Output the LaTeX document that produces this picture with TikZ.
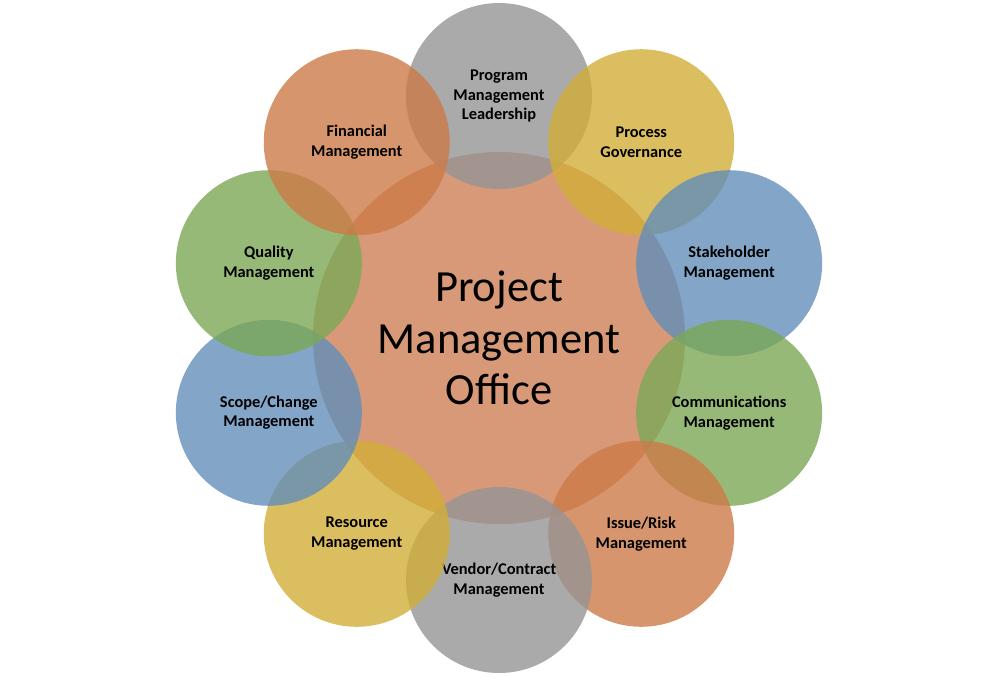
\documentclass[tikz,border=0pt]{standalone}
\usepackage{fontspec}
\setmainfont{Carlito}
\usetikzlibrary{positioning}
\definecolor{pmocore}{RGB}{205,128,86}
\definecolor{pmogray}{RGB}{149,149,149}
\definecolor{pmoorange}{RGB}{205,122,72}
\definecolor{pmoyellow}{RGB}{209,174,55}
\definecolor{pmoblue}{RGB}{99,142,186}
\definecolor{pmogreen}{RGB}{124,168,86}

\begin{document}
\begin{tikzpicture}[x=0.03cm, y=-0.03cm,
    hub/.style={circle, minimum size=11.16cm, inner sep=0pt, fill=pmocore, fill opacity=0.8, text opacity=1, align=center, font=\fontsize{38}{44}\selectfont},
    petal/.style={circle, minimum size=5.58cm, inner sep=0pt, fill=#1, fill opacity=0.8, text opacity=1, align=center, font=\bfseries\fontsize{14}{16.8}\selectfont}]
    \useasboundingbox (0,0) rectangle (998,687);
    % centre circle
    \node[hub] (pmo) at (499,338) {Project\\Management\\Office};
    % ring of ten petals
    \foreach \ang/\col/\name/\txt in {
        -90/pmogray/prog/{Program\\Management\\Leadership},
        -54/pmoyellow/proc/{Process\\Governance},
        -18/pmoblue/stake/{Stakeholder\\Management},
        18/pmogreen/comm/{Communications\\Management},
        54/pmoorange/risk/{Issue/Risk\\Management},
        90/pmogray/vend/{Vendor/Contract\\Management},
        126/pmoyellow/res/{Resource\\Management},
        162/pmoblue/scope/{Scope/Change\\Management},
        198/pmogreen/qual/{Quality\\Management},
        234/pmoorange/fin/{Financial\\Management}}
        \path (pmo.center) ++(\ang:242) node[petal=\col] (\name) {\txt};
\end{tikzpicture}
\end{document}
